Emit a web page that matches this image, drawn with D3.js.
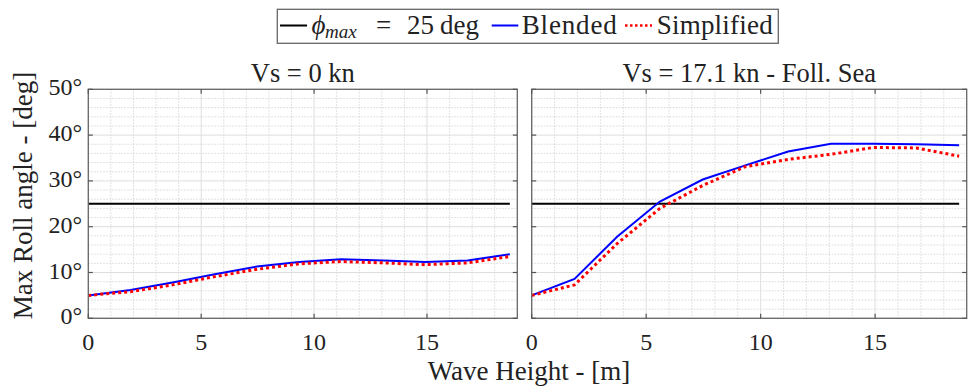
<!DOCTYPE html>
<html>
<head>
<meta charset="utf-8">
<script src="https://cdn.jsdelivr.net/npm/d3@7"></script>
<style>
  html, body { margin: 0; padding: 0; background: #fff; }
  svg { display: block; }
  text { font-family: "Liberation Serif", "Times New Roman", serif; fill: #222; }
</style>
</head>
<body>
<svg id="chart" width="968" height="389" font-family="Liberation Serif, serif"></svg>
<script>
// Significant wave height [m]
const waveHeights = [0, 1.87, 3.73, 5.6, 7.47, 9.33, 11.2, 13.07, 14.93, 16.8, 18.67];

// Max roll angle [deg], Vs = 0 kn
const blendedStill    = [5.0, 6.2, 7.8, 9.6, 11.3, 12.3, 12.9, 12.6, 12.3, 12.6, 14.0];
const simplifiedStill = [5.0, 5.8, 7.3, 9.1, 10.7, 11.9, 12.4, 12.1, 11.7, 12.1, 13.5];

// Max roll angle [deg], Vs = 17.1 kn, following sea
const blendedFoll    = [5.0, 8.6, 17.8, 25.5, 30.3, 33.4, 36.4, 38.1, 38.1, 38.0, 37.8];
const simplifiedFoll = [5.0, 7.3, 16.3, 24.0, 29.0, 33.1, 34.7, 35.8, 37.3, 37.2, 35.4];

const phiMax = 25;
const xTicks = [0, 5, 10, 15];
const yTicks = [0, 10, 20, 30, 40, 50];
const panelTitles = ["Vs = 0 kn", "Vs = 17.1 kn - Foll. Sea"];

const svg = d3.select("#chart");
const plotTop = 89.3, plotBottom = 318.3;

const panels = [
  { title: panelTitles[0], left: 88.3, right: 517.3, blended: blendedStill, simplified: simplifiedStill, yLabels: true },
  { title: panelTitles[1], left: 531.7, right: 966.7, blended: blendedFoll, simplified: simplifiedFoll, yLabels: false }
];

const y = d3.scaleLinear().domain([0, 50]).range([plotBottom, plotTop]);

panels.forEach(p => {
  const x = d3.scaleLinear().domain([0, 19]).range([p.left, p.right]);
  const g = svg.append("g");

  // minor grid
  const minorX = d3.range(1, 19).filter(v => v % 5 !== 0);
  const minorY = d3.range(2, 50, 2).filter(v => v % 10 !== 0);
  g.selectAll(".mx").data(minorX).join("line")
    .attr("x1", d => x(d)).attr("x2", d => x(d))
    .attr("y1", plotTop).attr("y2", plotBottom)
    .attr("stroke", "#cfcfcf").attr("stroke-width", 0.8).attr("stroke-dasharray", "1.5,1.5");
  g.selectAll(".my").data(minorY).join("line")
    .attr("x1", p.left).attr("x2", p.right)
    .attr("y1", d => y(d)).attr("y2", d => y(d))
    .attr("stroke", "#cfcfcf").attr("stroke-width", 0.8).attr("stroke-dasharray", "1.5,1.5");
  // major grid
  g.selectAll(".gx").data(xTicks).join("line")
    .attr("x1", d => x(d)).attr("x2", d => x(d))
    .attr("y1", plotTop).attr("y2", plotBottom)
    .attr("stroke", "#dedede").attr("stroke-width", 1);
  g.selectAll(".gy").data(yTicks).join("line")
    .attr("x1", p.left).attr("x2", p.right)
    .attr("y1", d => y(d)).attr("y2", d => y(d))
    .attr("stroke", "#dedede").attr("stroke-width", 1);

  // threshold line
  g.append("line")
    .attr("x1", x(waveHeights[0])).attr("x2", x(waveHeights[waveHeights.length - 1]))
    .attr("y1", y(phiMax)).attr("y2", y(phiMax))
    .attr("stroke", "#000").attr("stroke-width", 2);

  const line = d3.line().x((d, i) => x(waveHeights[i])).y(d => y(d));
  g.append("path").datum(p.blended).attr("d", line)
    .attr("fill", "none").attr("stroke", "#0000ff").attr("stroke-width", 2);
  g.append("path").datum(p.simplified).attr("d", line)
    .attr("fill", "none").attr("stroke", "#ff0000").attr("stroke-width", 3)
    .attr("stroke-dasharray", "3,3");

  // box and ticks
  g.append("rect").attr("x", p.left).attr("y", plotTop)
    .attr("width", p.right - p.left).attr("height", plotBottom - plotTop)
    .attr("fill", "none").attr("stroke", "#666").attr("stroke-width", 1.3);
  const tl = 4.5;
  xTicks.forEach(v => {
    g.append("line").attr("x1", x(v)).attr("x2", x(v)).attr("y1", plotBottom).attr("y2", plotBottom - tl)
      .attr("stroke", "#555").attr("stroke-width", 1.2);
    g.append("line").attr("x1", x(v)).attr("x2", x(v)).attr("y1", plotTop).attr("y2", plotTop + tl)
      .attr("stroke", "#555").attr("stroke-width", 1.2);
    g.append("text").attr("x", x(v)).attr("y", 349.5)
      .attr("text-anchor", "middle").attr("font-size", 24).text(v);
  });
  yTicks.forEach(v => {
    g.append("line").attr("x1", p.left).attr("x2", p.left + tl).attr("y1", y(v)).attr("y2", y(v))
      .attr("stroke", "#555").attr("stroke-width", 1.2);
    g.append("line").attr("x1", p.right).attr("x2", p.right - tl).attr("y1", y(v)).attr("y2", y(v))
      .attr("stroke", "#555").attr("stroke-width", 1.2);
    if (p.yLabels) {
      g.append("text").attr("x", 82).attr("y", y(v) + 6)
        .attr("text-anchor", "end").attr("font-size", 24).text(v + "°");
    }
  });

  g.append("text").attr("x", (p.left + p.right) / 2).attr("y", 81.5)
    .attr("text-anchor", "middle").attr("font-size", 26.5).text(p.title);
});

// axis labels
svg.append("text").attr("x", 529).attr("y", 379.5)
  .attr("text-anchor", "middle").attr("font-size", 27).text("Wave Height - [m]");
svg.append("text")
  .attr("transform", "translate(31.5,195.5) rotate(-90)")
  .attr("text-anchor", "middle").attr("font-size", 27).text("Max Roll angle - [deg]");

// legend
const lg = svg.append("g");
lg.append("rect").attr("x", 277.3).attr("y", 9.3).attr("width", 501).attr("height", 34)
  .attr("fill", "#fff").attr("stroke", "#666").attr("stroke-width", 1.3);
const legendY = 25.5, legendBase = 33.5;
lg.append("line").attr("x1", 280).attr("x2", 307).attr("y1", legendY).attr("y2", legendY)
  .attr("stroke", "#000").attr("stroke-width", 2);
// math-style label: phi_max = 25 deg
lg.append("text").attr("x", 311.5).attr("y", legendBase).attr("font-size", 27)
  .attr("font-style", "italic").text("ϕ");
lg.append("text").attr("x", 325).attr("y", legendBase + 4).attr("font-size", 19)
  .attr("font-style", "italic").text("max");
lg.append("text").attr("x", 376).attr("y", legendBase).attr("font-size", 27).text("=");
lg.append("text").attr("x", 407).attr("y", legendBase).attr("font-size", 27).text("25");
lg.append("text").attr("x", 440).attr("y", legendBase).attr("font-size", 27).text("deg");
lg.append("line").attr("x1", 491.7).attr("x2", 518.3).attr("y1", legendY).attr("y2", legendY)
  .attr("stroke", "#0000ff").attr("stroke-width", 2);
lg.append("text").attr("x", 521.7).attr("y", legendBase).attr("font-size", 27)
  .attr("textLength", 95).attr("lengthAdjust", "spacing").text("Blended");
lg.append("line").attr("x1", 625).attr("x2", 652).attr("y1", legendY).attr("y2", legendY)
  .attr("stroke", "#ff0000").attr("stroke-width", 2.5).attr("stroke-dasharray", "2.5,2.5");
lg.append("text").attr("x", 656.7).attr("y", legendBase).attr("font-size", 27)
  .attr("textLength", 116).attr("lengthAdjust", "spacing").text("Simplified");
</script>
</body>
</html>
